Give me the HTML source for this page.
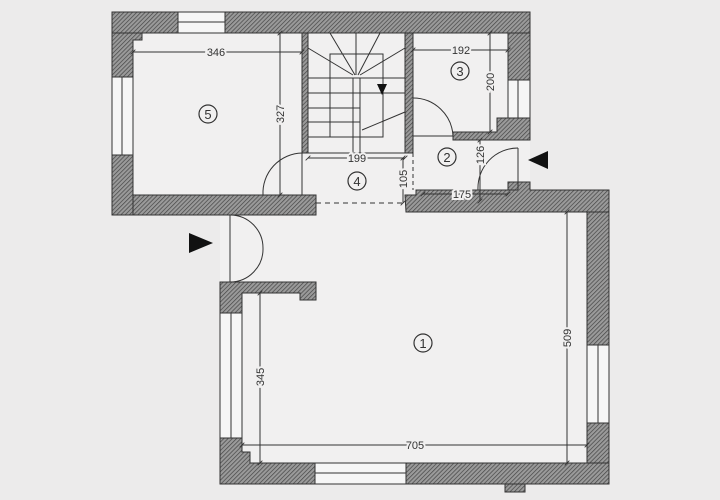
<!DOCTYPE html>
<html><head><meta charset="utf-8"><style>
html,body{margin:0;padding:0;background:#eceaea;}
svg{display:block;}
text{font-family:"Liberation Sans",sans-serif;fill:#333;}
</style></head><body>
<svg width="720" height="500" viewBox="0 0 720 500" xmlns="http://www.w3.org/2000/svg">
<defs>
<pattern id="h" width="3" height="3" patternUnits="userSpaceOnUse" patternTransform="rotate(45)">
<rect width="3" height="3" fill="#9a9a9a"/><line x1="0" y1="0" x2="0" y2="3" stroke="#444" stroke-width="1.4"/>
</pattern>
<marker id="t" viewBox="0 0 6 6" refX="3" refY="3" markerWidth="5" markerHeight="5"><line x1="0" y1="6" x2="6" y2="0" stroke="#333" stroke-width="1"/></marker>
</defs>
<rect width="720" height="500" fill="#ecebeb"/>
<rect x="112" y="12" width="418" height="203" fill="#f1f0f0"/>
<rect x="220" y="190" width="389" height="294" fill="#f1f0f0"/>
<g fill="url(#h)" stroke="#333" stroke-width="1">
<!-- upper block -->
<rect x="112" y="12" width="66" height="21"/>
<rect x="225" y="12" width="305" height="21"/>
<path d="M112 33 H142 V40 H133 V77 H112 Z"/>
<rect x="112" y="155" width="21" height="60"/>
<rect x="133" y="195" width="183" height="20"/>
<rect x="302" y="33" width="6" height="120"/>
<rect x="405" y="33" width="8" height="120"/>
<rect x="508" y="33" width="22" height="47"/>
<path d="M497 118 H530 V140 H453 V132 H497 Z"/>
<path d="M405 195 H416 V190 H508 V182 H530 V190 H609 V212 H406 Z"/>
<!-- lower block -->
<rect x="587" y="212" width="22" height="133"/>
<rect x="587" y="423" width="22" height="61"/>
<path d="M220 282 H316 V300 H300 V293 H242 V313 H220 Z"/>
<path d="M220 438 H242 V452 H250 V463 H315 V484 H220 Z"/>
<rect x="406" y="463" width="203" height="21"/>
<rect x="505" y="484" width="20" height="8"/>
</g>
<g fill="#f6f6f6" stroke="#333" stroke-width="1">
<rect x="178" y="12" width="47" height="21"/><line x1="178" y1="22" x2="225" y2="22"/>
<rect x="112" y="77" width="21" height="78"/><line x1="122" y1="77" x2="122" y2="155"/>
<rect x="508" y="80" width="22" height="38"/><line x1="518" y1="80" x2="518" y2="118"/>
<rect x="587" y="345" width="22" height="78"/><line x1="598" y1="345" x2="598" y2="423"/>
<rect x="220" y="313" width="22" height="125"/><line x1="231" y1="313" x2="231" y2="438"/>
<rect x="315" y="463" width="91" height="21"/><line x1="315" y1="473" x2="406" y2="473"/>
</g>
<g fill="none" stroke="#333" stroke-width="1">
<!-- stairs -->
<line x1="308" y1="48" x2="353" y2="75"/><line x1="330" y1="33" x2="355" y2="75"/><line x1="356" y1="33" x2="356" y2="75"/><line x1="380" y1="33" x2="358" y2="75"/><line x1="405" y1="48" x2="360" y2="75"/>
<rect x="330" y="54" width="53" height="83"/>
<line x1="308" y1="78" x2="405" y2="78"/><line x1="308" y1="93" x2="405" y2="93"/><line x1="308" y1="108" x2="360" y2="108"/><line x1="308" y1="122" x2="360" y2="122"/><line x1="308" y1="137" x2="360" y2="137"/>
<rect x="353" y="78" width="7" height="75"/>
<line x1="362" y1="130" x2="405" y2="112"/>
<line x1="308" y1="153" x2="413" y2="153"/>
<!-- doors -->
<path d="M413 98 A40 40 0 0 1 453 136"/><line x1="413" y1="136" x2="453" y2="136"/>
<path d="M302 153 A40 40 0 0 0 263 195"/><line x1="302" y1="153" x2="302" y2="195"/>
<path d="M518 148 A40 40 0 0 0 478 190"/><line x1="518" y1="148" x2="518" y2="190"/><line x1="478" y1="190" x2="518" y2="190"/>
<line x1="230" y1="215" x2="230" y2="282"/>
<path d="M230 215 A33 33 0 0 1 263 248"/><path d="M230 282 A33 33 0 0 0 263 248"/>
<line x1="316" y1="203" x2="405" y2="203" stroke-dasharray="5,4"/>
<line x1="413" y1="153" x2="413" y2="190" stroke-dasharray="4,3"/>
<!-- dimensions -->
<line x1="133" y1="52" x2="302" y2="52" marker-start="url(#t)" marker-end="url(#t)"/>
<line x1="280" y1="33" x2="280" y2="195" marker-start="url(#t)" marker-end="url(#t)"/>
<line x1="413" y1="50" x2="508" y2="50" marker-start="url(#t)" marker-end="url(#t)"/>
<line x1="490" y1="33" x2="490" y2="132" marker-start="url(#t)" marker-end="url(#t)"/>
<line x1="308" y1="158" x2="405" y2="158" marker-start="url(#t)" marker-end="url(#t)"/>
<line x1="403" y1="158" x2="403" y2="203" marker-start="url(#t)" marker-end="url(#t)"/>
<line x1="423" y1="194" x2="508" y2="194" marker-start="url(#t)" marker-end="url(#t)"/>
<line x1="480" y1="140" x2="480" y2="201" marker-start="url(#t)" marker-end="url(#t)"/>
<line x1="567" y1="212" x2="567" y2="463" marker-start="url(#t)" marker-end="url(#t)"/>
<line x1="260" y1="293" x2="260" y2="463" marker-start="url(#t)" marker-end="url(#t)"/>
<line x1="242" y1="445" x2="587" y2="445" marker-start="url(#t)" marker-end="url(#t)"/>
</g>
<g font-size="11" text-anchor="middle">
<text x="216" y="56" style="paint-order:stroke" stroke="#f1f0f0" stroke-width="4">346</text>
<text x="461" y="54" style="paint-order:stroke" stroke="#f1f0f0" stroke-width="4">192</text>
<text x="357" y="162" style="paint-order:stroke" stroke="#f1f0f0" stroke-width="4">199</text>
<text x="462" y="198" style="paint-order:stroke" stroke="#f1f0f0" stroke-width="4">175</text>
<text x="415" y="449" style="paint-order:stroke" stroke="#f1f0f0" stroke-width="4">705</text>
<text transform="translate(284,114) rotate(-90)" style="paint-order:stroke" stroke="#f1f0f0" stroke-width="4">327</text>
<text transform="translate(494,82) rotate(-90)" style="paint-order:stroke" stroke="#f1f0f0" stroke-width="4">200</text>
<text transform="translate(484,155) rotate(-90)" style="paint-order:stroke" stroke="#f1f0f0" stroke-width="4">126</text>
<text transform="translate(407,179) rotate(-90)" style="paint-order:stroke" stroke="#f1f0f0" stroke-width="4">105</text>
<text transform="translate(571,338) rotate(-90)" style="paint-order:stroke" stroke="#f1f0f0" stroke-width="4">509</text>
<text transform="translate(264,377) rotate(-90)" style="paint-order:stroke" stroke="#f1f0f0" stroke-width="4">345</text>
</g>
<g fill="none" stroke="#333" stroke-width="1.2">
<circle cx="208" cy="114" r="9"/><circle cx="460" cy="71" r="9"/><circle cx="447" cy="157" r="9"/><circle cx="357" cy="181" r="9"/><circle cx="423" cy="343" r="9"/>
</g>
<g font-size="13" text-anchor="middle">
<text x="208" y="119">5</text><text x="460" y="76">3</text><text x="447" y="162">2</text><text x="357" y="186">4</text><text x="423" y="348">1</text>
</g>
<path d="M377 84 H387 L382 95 Z" fill="#111"/>
<path d="M189 233 L213 243 L189 253 Z" fill="#111"/>
<path d="M548 151 L528 160 L548 169 Z" fill="#111"/>
</svg>
</body></html>
